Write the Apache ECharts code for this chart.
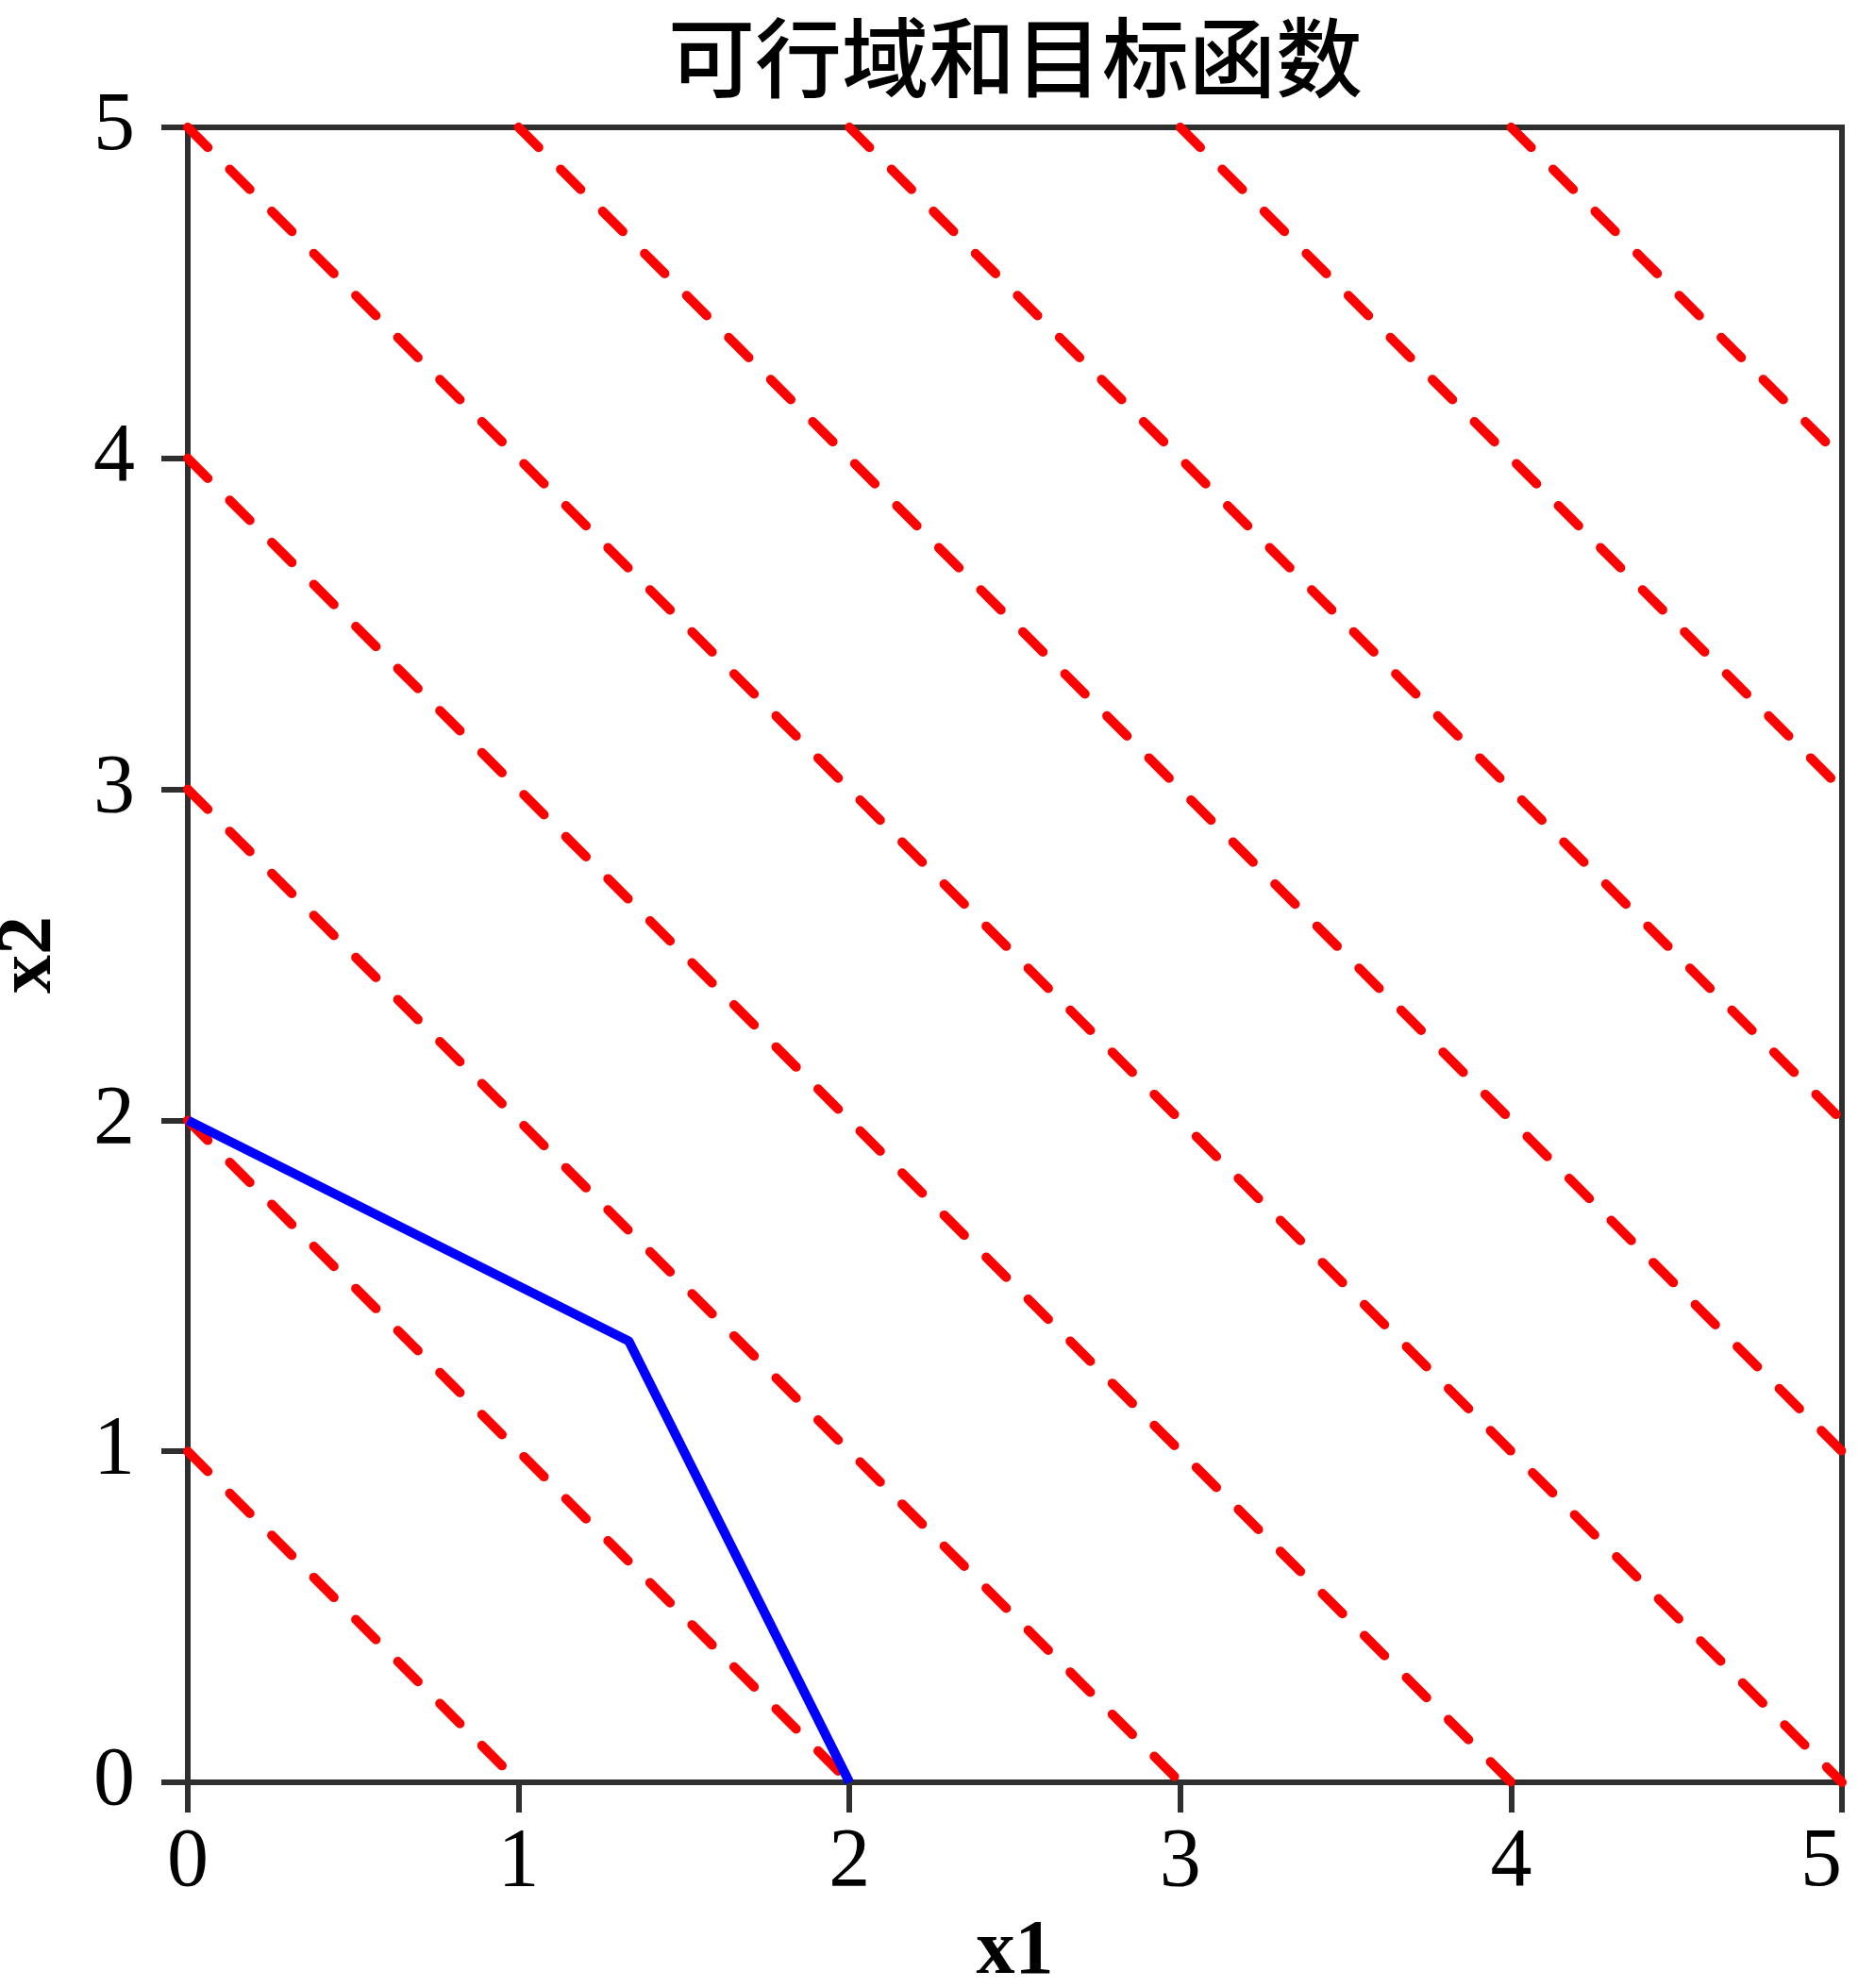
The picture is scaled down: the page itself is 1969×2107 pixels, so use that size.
<!DOCTYPE html>
<html>
<head>
<meta charset="utf-8">
<title>可行域和目标函数</title>
<script src="https://cdn.jsdelivr.net/npm/echarts@6/dist/echarts.min.js"></script>
<style>
    html, body { margin: 0; padding: 0; background: #fff; }
    #main { width: 1969px; height: 2107px; }
</style>
</head>
<body>
<div id="main"></div>
<script>
// axis ticks
const xTicks = [0, 1, 2, 3, 4, 5];
const yTicks = [0, 1, 2, 3, 4, 5];

// objective function contours x1 + x2 = c, clipped to the box
const levelValues = [1, 2, 3, 4, 5, 6, 7, 8, 9];
const levelStart = [[0, 1], [0, 2], [0, 3], [0, 4], [0, 5], [1, 5], [2, 5], [3, 5], [4, 5]];
const levelEnd = [[1, 0], [2, 0], [3, 0], [4, 0], [5, 0], [5, 1], [5, 2], [5, 3], [5, 4]];

// feasible region boundary (blue)
const boundaryX = [0, 1.333, 2];
const boundaryY = [2, 1.333, 0];

const axisColor = '#2f2f2f';
const serif = '"Liberation Serif", "Times New Roman", serif';

let series = [];
for (let i = 0; i < levelValues.length; i++) {
    series.push({
        name: 'c=' + levelValues[i],
        type: 'line',
        symbol: 'none',
        silent: true,
        lineStyle: {
            color: '#ff0000',
            width: 10,
            type: [30, 33],
            cap: 'round'
        },
        data: [levelStart[i], levelEnd[i]]
    });
}
series.push({
    name: 'boundary',
    type: 'line',
    symbol: 'none',
    silent: true,
    z: 5,
    lineStyle: {
        color: '#0000ff',
        width: 10,
        join: 'round'
    },
    data: boundaryX.map((x, i) => [x, boundaryY[i]])
});

const chart = echarts.init(document.getElementById('main'));
chart.setOption({
    animation: false,
    backgroundColor: '#fff',
    title: {
        text: '可行域和目标函数',
        left: 703,
        top: 10,
        textStyle: {
            fontFamily: '"Noto Sans CJK SC", sans-serif',
            fontSize: 92,
            fontWeight: 500,
            color: '#000'
        }
    },
    grid: {
        left: 199,
        right: 17,
        top: 135,
        bottom: 218,
        outerBoundsMode: 'none',
        containLabel: false,
        show: true,
        borderColor: axisColor,
        borderWidth: 6
    },
    xAxis: {
        type: 'value',
        min: xTicks[0],
        max: xTicks[xTicks.length - 1],
        interval: 1,
        name: 'x1',
        nameLocation: 'middle',
        nameGap: 140,
        nameTextStyle: {
            fontFamily: serif,
            fontSize: 82,
            fontWeight: 'bold',
            color: '#000'
        },
        axisLine: { show: true, onZero: false, lineStyle: { color: axisColor, width: 6 } },
        axisTick: { show: true, length: 32, lineStyle: { color: axisColor, width: 6 } },
        splitLine: { show: false },
        axisLabel: {
            margin: 42,
            fontFamily: serif,
            fontSize: 88,
            color: '#000',
            alignMaxLabel: 'right'
        }
    },
    yAxis: {
        type: 'value',
        min: yTicks[0],
        max: yTicks[yTicks.length - 1],
        interval: 1,
        name: 'x2',
        nameLocation: 'middle',
        nameGap: 126,
        nameTextStyle: {
            fontFamily: serif,
            fontSize: 82,
            fontWeight: 'bold',
            color: '#000'
        },
        axisLine: { show: true, onZero: false, lineStyle: { color: axisColor, width: 6 } },
        axisTick: { show: true, length: 28, lineStyle: { color: axisColor, width: 6 } },
        splitLine: { show: false },
        axisLabel: {
            margin: 56,
            fontFamily: serif,
            fontSize: 88,
            color: '#000'
        }
    },
    series: series
});
</script>
</body>
</html>
